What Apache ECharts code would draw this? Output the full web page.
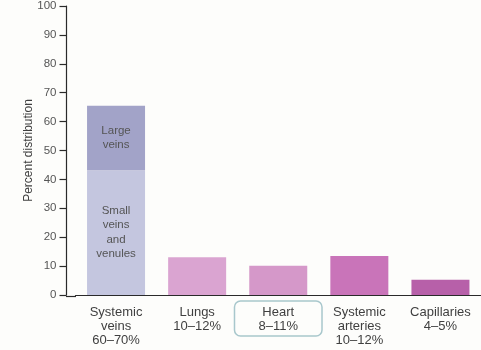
<!DOCTYPE html>
<html>
<head>
<meta charset="utf-8">
<script src="https://cdn.jsdelivr.net/npm/echarts@6/dist/echarts.min.js"></script>
<style>
  html, body { margin: 0; padding: 0; background: #fdfdfb; }
  #chart { width: 481px; height: 350px; }
</style>
</head>
<body>
<div id="chart"></div>
<script>
// Blood volume distribution across the circulation
const categories = [
  'Systemic\nveins\n60–70%',
  'Lungs\n10–12%',
  'Heart\n8–11%',
  'Systemic\narteries\n10–12%',
  'Capillaries\n4–5%'
];
// Lower (small veins) and upper (large veins) part of the venous bar
const smallVeins = [43.2, null, null, null, null];
const largeVeins = [22.3, null, null, null, null];
// Single-segment bars for the other compartments
const otherCompartments = [null, 13.1, 10.1, 13.5, 5.3];
const otherColors = [null, '#daa4d1', '#d598c9', '#c974b9', '#b760a9'];
const yTicks = [0, 100, 10];

const FONT = '"Liberation Sans", Arial, Helvetica, sans-serif';
const TEXT = '#3f3f3f';

const chart = echarts.init(document.getElementById('chart'), null, { renderer: 'canvas' });

const axisY0 = 296.5;

chart.setOption({
  backgroundColor: '#fdfdfb',
  animation: false,
  grid: { left: 75.5, right: -4.5, top: 5.5, bottom: 350 - axisY0 },
  xAxis: {
    type: 'category',
    data: categories.map(function (c, i) {
      if (i === 2) {
        return {
          value: c,
          textStyle: {
            borderColor: '#a8c7cc',
            borderWidth: 1.5,
            borderRadius: 6,
            padding: [4, 24, 3, 24]
          }
        };
      }
      return { value: c, textStyle: { padding: [4, 0, 3, 0] } };
    }),
    axisLine: { lineStyle: { color: '#2a2a2a', width: 1.2 } },
    axisTick: { show: false },
    axisLabel: {
      margin: 6,
      color: TEXT,
      fontFamily: FONT,
      fontSize: 13,
      lineHeight: 14,
      interval: 0
    }
  },
  yAxis: {
    type: 'value',
    min: yTicks[0],
    max: yTicks[1],
    interval: yTicks[2],
    offset: 9,
    name: 'Percent distribution',
    nameLocation: 'middle',
    nameGap: 32,
    nameMoveOverlap: false,
    nameTextStyle: { color: TEXT, fontFamily: FONT, fontSize: 12 },
    axisLine: { show: true, lineStyle: { color: '#2a2a2a', width: 1.2 } },
    axisTick: { show: true, length: 7, lineStyle: { color: '#2a2a2a', width: 1.2 } },
    axisLabel: { margin: 10, color: '#555', fontFamily: FONT, fontSize: 11.5 },
    splitLine: { show: false }
  },
  series: [
    {
      type: 'bar',
      name: 'Small veins and venules',
      stack: 'v',
      barWidth: 58,
      data: smallVeins,
      itemStyle: { color: '#c4c6df' },
      label: {
        show: true,
        position: 'inside',
        formatter: 'Small\nveins\nand\nvenules',
        color: '#555',
        fontFamily: FONT,
        fontSize: 11.5,
        lineHeight: 14.5
      }
    },
    {
      type: 'bar',
      name: 'Large veins',
      stack: 'v',
      barWidth: 58,
      data: largeVeins,
      itemStyle: { color: '#a2a3c8' },
      label: {
        show: true,
        position: 'inside',
        formatter: 'Large\nveins',
        color: '#555',
        fontFamily: FONT,
        fontSize: 11.5,
        lineHeight: 14.5
      }
    },
    {
      type: 'bar',
      name: 'Other',
      stack: 'v',
      barWidth: 58,
      data: otherCompartments.map(function (v, i) {
        return v == null ? null : { value: v, itemStyle: { color: otherColors[i] } };
      })
    }
  ],
  graphic: [
    {
      // short stretch of the baseline between the offset y axis and the plot area
      type: 'line',
      shape: { x1: 66, y1: axisY0, x2: 76, y2: axisY0 },
      style: { stroke: '#2a2a2a', lineWidth: 1.2 },
      z: 10
    }
  ]
});
</script>
</body>
</html>
